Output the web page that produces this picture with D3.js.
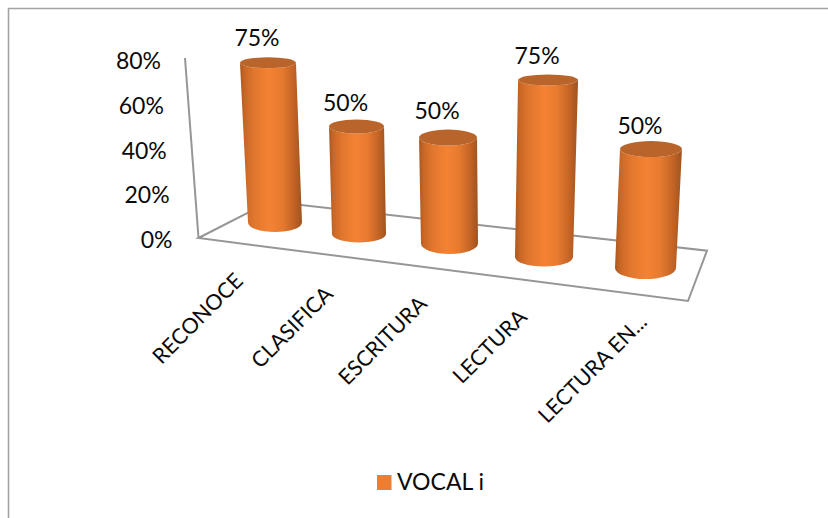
<!DOCTYPE html>
<html>
<head>
<meta charset="utf-8">
<script src="https://cdn.jsdelivr.net/npm/d3@7"></script>
<style>
html,body{margin:0;padding:0;background:#fff;}
svg{display:block;}
text{font-family:Lato,"Open Sans",sans-serif;fill:#0a0a0a;}
</style>
</head>
<body>
<svg id="chart" width="828" height="518"></svg>
<script>
const categories = ["RECONOCE","CLASIFICA","ESCRITURA","LECTURA","LECTURA EN..."];
const seriesName = "VOCAL i";
const values = [0.75,0.50,0.50,0.75,0.50];
const yTicks = [0,0.2,0.4,0.6,0.8];

const W = 828, H = 518;
const svg = d3.select("#chart");
const idx = d3.range(categories.length);
const pct = d3.format(".0%");
const byCat = r => d3.scaleLinear().domain(idx).range(r);

// oblique 3-D projection: every column gets its own place on the floor
const baseX = byCat([275,359,449.5,544,645.5]);
const baseY = byCat([222.5,234,243.5,257,268]);
const depth = byCat([1,1.01,0.995,1.108,1.117]);
const lean  = byCat([-0.044,-0.023,-0.014,0.023,0.046]);
const rBase = byCat([27,27,28.5,29,30.5]);
const rTop  = byCat([28,27.5,29,30,31]);
const ryTop = byCat([5.5,7,8,5.5,8]);
const ryBase= byCat([9.5,8.5,10.5,9.5,11]);
const labelGap = byCat([19,16,19,19,15]);
const h = d3.scaleLinear().domain([0,1]).range([0,213]);
const tickX = d3.scaleLinear().domain([0,0.8]).range([172.5,161]);
const tickY = d3.scaleLinear().domain([0,0.8]).range([240,61]);
const wallX = d3.scaleLinear().domain([0,0.8]).range([198.5,185]);
const wallY = d3.scaleLinear().domain([0,0.8]).range([238,58]);
const labelEndX = byCat([239,329,423,523,643]);
const labelEndY = byCat([277,290,300,313,318]);

// frame
svg.append("path").attr("d",`M8.5,${H}V8.5H${W}`)
  .attr("fill","none").attr("stroke","#a3a3a3").attr("stroke-width",1.6);

// wall and floor
const line = d3.line();
const axisCol = "#969696";
svg.append("path").attr("d",line([[wallX(0.8),wallY(0.8)],[wallX(0),wallY(0)]]))
  .attr("fill","none").attr("stroke",axisCol).attr("stroke-width",2);
svg.append("path").attr("d",line([[wallX(0),wallY(0)],[270,201.5],[707,250.7],[688,301]])+"Z")
  .attr("fill","none").attr("stroke",axisCol).attr("stroke-width",2).attr("stroke-linejoin","miter");

// axis labels
svg.append("g").selectAll("text").data(yTicks).join("text")
  .attr("x",tickX).attr("y",tickY).attr("dy","0.35em")
  .attr("text-anchor","end").attr("font-size",23).text(pct);

// gradient for cylinder side
const defs = svg.append("defs");
const grad = defs.append("linearGradient").attr("id","side");
[[0,"#a9581f"],[0.08,"#c96727"],[0.22,"#e0762d"],[0.47,"#f58233"],[0.68,"#e67a2f"],[0.88,"#c06225"],[1,"#9c5320"]]
  .forEach(s=>grad.append("stop").attr("offset",s[0]).attr("stop-color",s[1]));

// columns
const bars = svg.append("g").selectAll("g").data(idx).join("g");
const topY = i => baseY(i)-h(values[i])*depth(i);
const topX = i => baseX(i)+lean(i)*h(values[i])*depth(i);
bars.append("path").attr("fill","url(#side)").attr("d",i=>{
  const bx=baseX(i),by=baseY(i),tx=topX(i),ty=topY(i);
  return `M${tx-rTop(i)},${ty}L${bx-rBase(i)},${by}`+
    `A${rBase(i)},${ryBase(i)} 0 0 0 ${bx+rBase(i)},${by}`+
    `L${tx+rTop(i)},${ty}`+
    `A${rTop(i)},${ryTop(i)} 0 0 1 ${tx-rTop(i)},${ty}Z`;
});
bars.append("ellipse")
  .attr("cx",topX).attr("cy",topY)
  .attr("rx",rTop).attr("ry",ryTop)
  .attr("fill","#b9642a");

// value labels
bars.append("text")
  .attr("x",i=>topX(i)-11)
  .attr("y",i=>topY(i)-ryTop(i)-labelGap(i))
  .attr("dy","0.35em").attr("text-anchor","middle").attr("font-size",23)
  .text(i=>pct(values[i]));

// category labels
svg.append("g").selectAll("text").data(idx).join("text")
  .attr("transform",i=>`translate(${labelEndX(i)},${labelEndY(i)}) rotate(-45)`)
  .attr("text-anchor","end").attr("dy","0.35em").attr("font-size",21.5)
  .text(i=>categories[i]);

// legend
const legend = svg.append("g");
legend.append("rect").attr("x",377).attr("y",475).attr("width",14.5).attr("height",15).attr("fill","#ed7d31");
legend.append("text").attr("x",397).attr("y",482).attr("dy","0.35em").attr("font-size",23).text(seriesName);
</script>
</body>
</html>
